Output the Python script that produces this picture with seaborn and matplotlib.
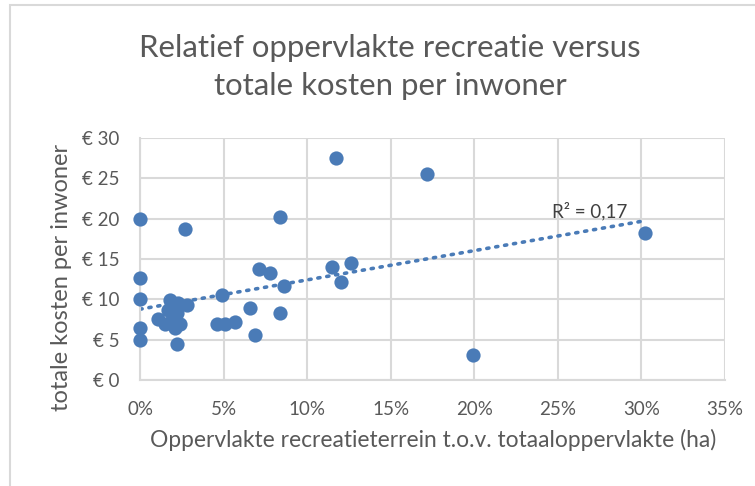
import numpy as np
import pandas as pd
import seaborn as sns
import matplotlib
matplotlib.use("Agg")
import matplotlib.pyplot as plt
from matplotlib.patches import Rectangle
from matplotlib.ticker import FuncFormatter

# Share of recreational land (% of total area) per municipality
aandeel_recreatie = [
    0.0, 0.0, 0.0, 0.0, 0.0,
    2.7, 8.4, 11.7, 17.2, 30.2, 19.9,
    11.5, 12.6, 12.0, 7.1, 7.8, 8.6,
    4.9, 4.6, 5.1, 5.7, 6.6, 6.9, 8.4, 2.2,
    1.8, 2.3, 2.8, 1.1, 1.5, 1.9, 2.4, 2.1, 1.7, 2.2, 2.0,
]
# Total costs per inhabitant (EUR)
kosten_per_inwoner = [
    20.0, 12.6, 10.1, 6.4, 5.0,
    18.7, 20.2, 27.5, 25.5, 18.2, 3.05,
    14.0, 14.5, 12.1, 13.7, 13.3, 11.6,
    10.5, 6.9, 7.0, 7.15, 8.9, 5.6, 8.3, 4.5,
    9.9, 9.5, 9.3, 7.6, 7.0, 7.4, 7.0, 6.4, 8.7, 8.3, 8.0,
]
x_ticks = [0, 5, 10, 15, 20, 25, 30, 35]
y_ticks = [0, 5, 10, 15, 20, 25, 30]

df = pd.DataFrame({"aandeel": aandeel_recreatie, "kosten": kosten_per_inwoner})

sns.set_theme(style="white")
plt.rcParams["font.family"] = ["Lato", "DejaVu Sans"]

BLUE = "#4A7BB7"
GRID = "#D9D9D9"
TEXT = "#595959"

fig = plt.figure(figsize=(7.55, 4.86), dpi=100)
ax = fig.add_axes([140 / 755, 1 - 380 / 486, (725 - 140) / 755, (380 - 138) / 486])

sns.regplot(
    data=df, x="aandeel", y="kosten", ax=ax, ci=None, truncate=True,
    scatter_kws=dict(s=105, color=BLUE, alpha=1, linewidths=0, clip_on=False, zorder=3),
    line_kws=dict(color=BLUE, lw=2.6, linestyle=(0, (0.6, 1.9)),
                  dash_capstyle="round", zorder=2),
)

# coefficient of determination for the linear fit
slope, intercept = np.polyfit(df["aandeel"], df["kosten"], 1)
pred = slope * df["aandeel"] + intercept
r2 = 1 - ((df["kosten"] - pred) ** 2).sum() / ((df["kosten"] - df["kosten"].mean()) ** 2).sum()
ax.text(590 / 755, 1 - 211 / 486, f"R² = {r2:.2f}".replace(".", ","),
        transform=fig.transFigure, ha="center", va="center",
        fontsize=13.5, color="#404040")

ax.set_xlim(0, 35)
ax.set_ylim(0, 30)
ax.set_xticks(x_ticks)
ax.set_yticks(y_ticks)
ax.xaxis.set_major_formatter(FuncFormatter(lambda v, p: f"{v:.0f}%"))
ax.yaxis.set_major_formatter(FuncFormatter(lambda v, p: f"€ {v:.0f}"))
ax.tick_params(axis="both", length=0, labelsize=13.5, labelcolor=TEXT)
ax.tick_params(axis="x", pad=15)
ax.tick_params(axis="y", pad=15)

ax.grid(True, color=GRID, lw=1.5)
ax.set_axisbelow(True)
for side in ["top", "right"]:
    ax.spines[side].set_visible(False)
for side in ["left", "bottom"]:
    ax.spines[side].set_color(GRID)
    ax.spines[side].set_linewidth(1.5)

ax.set_xlabel("Oppervlakte recreatieterrein t.o.v. totaaloppervlakte (ha)",
              fontsize=16.4, color=TEXT)
ax.xaxis.set_label_coords(433 / 755, 1 - 440 / 486, transform=fig.transFigure)
ax.set_ylabel("totale kosten per inwoner", fontsize=17, color=TEXT)
ax.yaxis.set_label_coords(62 / 755, 1 - 277 / 486, transform=fig.transFigure)
ax.xaxis.label.set_va("center")
ax.yaxis.label.set_va("center")

fig.text(390 / 755, 1 - 67 / 486,
         "Relatief oppervlakte recreatie versus\ntotale kosten per inwoner",
         ha="center", va="center", fontsize=22.4, color=TEXT, linespacing=1.4)

# chart frame
fig.patches.append(Rectangle((10 / 755, -0.1), 1.2, 1 - 5 / 486 + 0.1,
                             transform=fig.transFigure, fill=False,
                             edgecolor=GRID, lw=1.5))

fig.savefig("out.png", dpi=100)
